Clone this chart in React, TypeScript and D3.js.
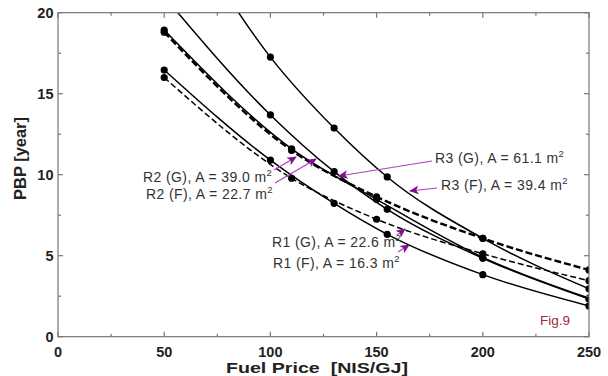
import React from 'react'
import * as d3 from 'd3'

// fuel price [NIS/GJ] and payback period [year]
const priceR3 = [50, 100, 130, 155, 200, 250]
const pbpR3F = [27.5, 17.26, 12.88, 9.86, 6.07, 2.96]
const pbpR3G = [21.0, 13.69, 10.19, 7.86, 4.84, 2.33]

const priceR2 = [50, 110, 150, 200, 250]
const pbpR2G = [18.93, 11.6, 8.48, 4.9, 2.38]
const pbpR2F = [18.8, 11.5, 8.64, 6.07, 4.12]

const priceR1G = [50, 100, 130, 155, 200, 250]
const pbpR1G = [16.46, 10.9, 8.23, 6.32, 3.83, 1.9]
const priceR1F = [50, 110, 150, 200, 250]
const pbpR1F = [16.0, 9.78, 7.25, 5.12, 3.46]

const xTicks = [0, 50, 100, 150, 200, 250]
const xMinor = [25, 75, 125, 175, 225]
const yTicks = [0, 5, 10, 15, 20]
const yMinor = [2.5, 7.5, 12.5, 17.5]

const labels = [
    { text: 'R3 (G), A = 61.1 m', x: 435, y: 163, from: [432, 161], to: [339, 176] },
    { text: 'R3 (F), A = 39.4 m', x: 441, y: 190, from: [437, 188], to: [410, 191] },
    { text: 'R2 (G), A = 39.0 m', x: 143, y: 182, from: [274, 170], to: [296, 157] },
    { text: 'R2 (F), A = 22.7 m', x: 146, y: 199, from: [275, 183], to: [316, 159] },
    { text: 'R1 (G), A = 22.6 m', x: 272, y: 247, from: [397, 235], to: [405, 229] },
    { text: 'R1 (F), A = 16.3 m', x: 273, y: 268, from: [398, 252], to: [409, 245] },
]

const font = 'Liberation Sans, Arial, sans-serif'

export default function App() {
    const x = d3.scaleLinear().domain([0, 250]).range([58, 589])
    const y = d3.scaleLinear().domain([0, 20]).range([336.7, 12.7])

    const line = d3
        .line<[number, number]>()
        .x((d) => x(d[0]))
        .y((d) => y(d[1]))
        .curve(d3.curveMonotoneX)

    const series = [
        { xs: priceR3, ys: pbpR3F, dash: null, w: 1.5 },
        { xs: priceR3, ys: pbpR3G, dash: null, w: 1.5 },
        { xs: priceR2, ys: pbpR2G, dash: null, w: 1.5 },
        { xs: priceR2, ys: pbpR2F, dash: '7,3', w: 2.4 },
        { xs: priceR1G, ys: pbpR1G, dash: null, w: 1.5 },
        { xs: priceR1F, ys: pbpR1F, dash: '6,3', w: 1.5 },
    ]

    const [x0, x1] = x.range()
    const [yb, yt] = y.range()
    const axisColor = '#777'

    return (
        <svg width={608} height={376} style={{ position: 'absolute', left: 0, top: 0, background: '#fff' }}>
            <defs>
                <clipPath id="plot">
                    <rect x={x0} y={yt} width={x1 - x0} height={yb - yt} />
                </clipPath>
                <marker id="arr" viewBox="0 0 10 10" refX="9" refY="5" markerWidth="8" markerHeight="8" orient="auto">
                    <path d="M0,0.5 L10,5 L0,9.5 L2.5,5 z" fill="#80108f" />
                </marker>
            </defs>

            <g clipPath="url(#plot)">
                {series.map((s, i) => {
                    const pts: [number, number][] = s.xs.map((v, j) => [v, s.ys[j]])
                    return (
                        <g key={i}>
                            <path d={line(pts) || ''} fill="none" stroke="#000" strokeWidth={s.w}
                                strokeDasharray={s.dash || undefined} />
                            {pts.map((p, j) => (
                                <circle key={j} cx={x(p[0])} cy={y(p[1])} r={3.6} fill="#000" />
                            ))}
                        </g>
                    )
                })}
            </g>

            <rect x={x0} y={yt} width={x1 - x0} height={yb - yt} fill="none" stroke={axisColor} strokeWidth={1.2} />

            {xTicks.concat(xMinor).map((t) => {
                const len = xTicks.includes(t) ? 5 : 3
                return (
                    <g key={'x' + t} stroke={axisColor} strokeWidth={1.2}>
                        <line x1={x(t)} x2={x(t)} y1={yb} y2={yb - len} />
                        <line x1={x(t)} x2={x(t)} y1={yt} y2={yt + len} />
                    </g>
                )
            })}
            {yTicks.concat(yMinor).map((t) => {
                const len = yTicks.includes(t) ? 5 : 3
                return (
                    <g key={'y' + t} stroke={axisColor} strokeWidth={1.2}>
                        <line x1={x0} x2={x0 + len} y1={y(t)} y2={y(t)} />
                        <line x1={x1} x2={x1 - len} y1={y(t)} y2={y(t)} />
                    </g>
                )
            })}

            {xTicks.map((t) => (
                <text key={'xl' + t} x={x(t)} y={356.5} textAnchor="middle" fontFamily={font}
                    fontWeight="bold" fontSize={14.5} fill="#222">{t}</text>
            ))}
            {yTicks.map((t) => (
                <text key={'yl' + t} x={53.5} y={y(t) + 5.2} textAnchor="end" fontFamily={font}
                    fontWeight="bold" fontSize={14.5} fill="#222">{t}</text>
            ))}

            <text x={317} y={372.5} textAnchor="middle" fontFamily={font} fontWeight="bold" fontSize={15}
                fill="#222" xmlSpace="preserve" textLength={182} lengthAdjust="spacingAndGlyphs">Fuel Price  [NIS/GJ]</text>
            <text transform="translate(26,158.5) rotate(-90)" textAnchor="middle" fontFamily={font}
                fontWeight="bold" fontSize={16.5} fill="#222" textLength={83}
                lengthAdjust="spacingAndGlyphs">PBP [year]</text>

            {labels.map((l, i) => (
                <g key={'lab' + i}>
                    <line x1={l.from[0]} y1={l.from[1]} x2={l.to[0]} y2={l.to[1]} stroke="#b040c0"
                        strokeWidth={1.2} markerEnd="url(#arr)" />
                    <text x={l.x} y={l.y} fontFamily={font} fontSize={14} letterSpacing={0.4} fill="#333">
                        {l.text}
                        <tspan fontSize={9.5} dy={-6}>2</tspan>
                    </text>
                </g>
            ))}

            <text x={540} y={325} fontFamily={font} fontSize={13.5} fill="#a02a3a">Fig.9</text>
        </svg>
    )
}
